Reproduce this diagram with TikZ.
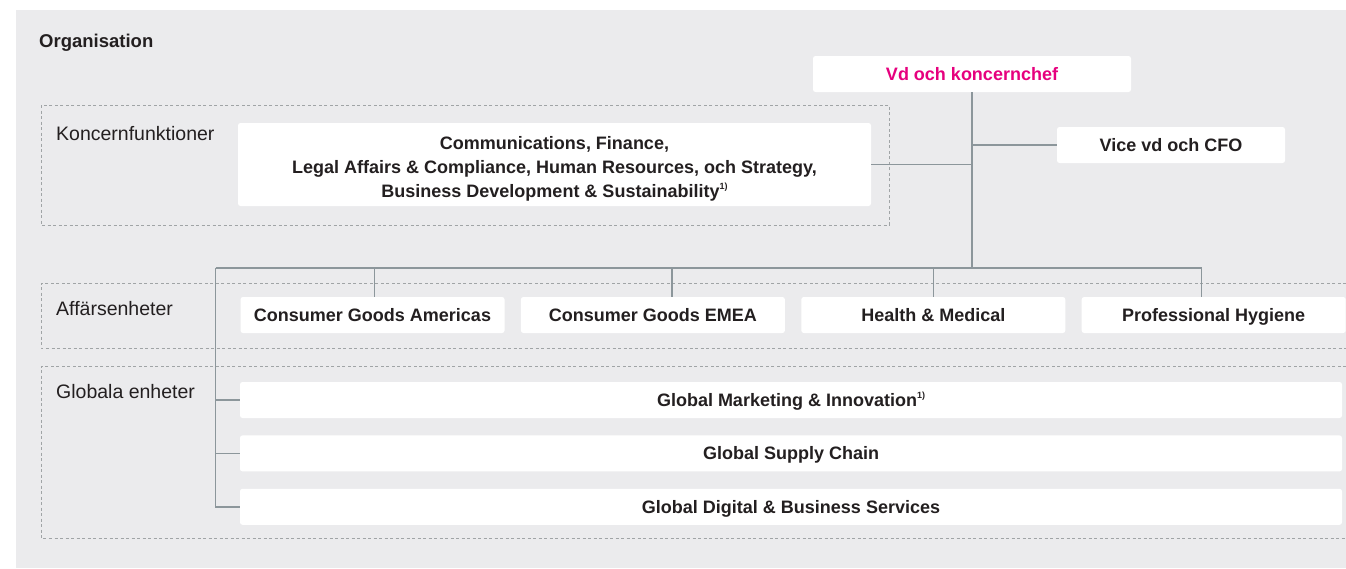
\documentclass[tikz,border=0pt]{standalone}
\usepackage{fontspec}
\setmainfont{Liberation Sans}
\usepackage{xcolor}
\usetikzlibrary{positioning}

\definecolor{bggray}{HTML}{EBEBED}
\definecolor{ink}{HTML}{231F20}
\definecolor{pink}{HTML}{E6007E}
\definecolor{linkgray}{HTML}{8C969B}
\definecolor{dashgray}{HTML}{A0A4A6}

\newcommand{\fnmark}{\raisebox{0.45em}{\fontsize{9}{9}\selectfont 1)}}

\begin{document}
\begin{tikzpicture}[x=1pt, y=-1pt,
  card/.style={rectangle, fill=white, rounded corners=2.5pt, inner sep=0pt,
               text=ink, font=\fontsize{18}{24}\selectfont\bfseries},
  box/.style={card, minimum height=36pt, text height=13pt, text depth=0pt},
  unit/.style={box, minimum width=264pt},
  glob/.style={box, minimum width=1102pt},
  group/.style={draw=dashgray, line width=0.8pt, dash pattern=on 3pt off 2.5pt},
  grouplabel/.style={anchor=west, inner sep=0pt, text=ink,
                     font=\fontsize{19.5}{22}\selectfont},
  link/.style={draw=linkgray, line width=1.4pt},
]
  \useasboundingbox (0,0) rectangle (1346,568);
  \fill[bggray] (16,10) rectangle (1346,568);

  % Title
  \node[anchor=west, inner sep=0pt, text=ink,
        font=\fontsize{18.5}{22}\selectfont\bfseries] (title) at (39,43) {Organisation};

  % Group frames
  \draw[group] (41,105) rectangle (889,225);
  \draw[group] (1346,283) -- (41,283) -- (41,348) -- (1346,348);
  \draw[group] (1346,366) -- (41,366) -- (41,538) -- (1346,538);
  \node[grouplabel] (kflabel) at (56,134) {Koncernfunktioner};
  \node[grouplabel] (aelabel) at (56,309) {Affärsenheter};
  \node[grouplabel] (gelabel) at (56,392) {Globala enheter};

  % Management
  \node[box, text=pink, minimum width=318pt] (ceo) at (972,74) {Vd och koncernchef};
  \node[box, minimum width=228pt] (cfo) at (1171,145) {Vice vd och CFO};
  % Group functions
  \node[card, minimum width=633pt, minimum height=83pt, align=center] (corp) at (554.5,164.5)
    {\rule{0pt}{22pt}Communications, Finance,\\
     Legal Affairs \& Compliance, Human Resources, och Strategy,\\
     Business Development \& Sustainability\fnmark};

  % Business units
  \node[unit] (cga) at (372.5,315) {Consumer Goods Americas};
  \node[unit, right=16pt of cga] (cge) {Consumer Goods EMEA};
  \node[unit, right=16pt of cge] (hm)  {Health \& Medical};
  \node[unit, right=16pt of hm]  (ph)  {Professional Hygiene};

  % Global units
  \node[glob] (gmi) at (791,400) {Global Marketing \& Innovation\fnmark};
  \node[glob, below=17pt of gmi] (gsc) {Global Supply Chain};
  \node[glob, below=17pt of gsc] (gdb) {Global Digital \& Business Services};

  % Lines
  \coordinate (busL) at (215.5,268);
  \coordinate (busR) at ([xshift=-12.5pt]ph.north |- busL);
  \draw[link] (ceo.south) -- (ceo.south |- busL);
  \draw[link] (corp.east) -- (corp.east -| ceo.south);
  \draw[link] (cfo.west) -- (cfo.west -| ceo.south);
  \draw[link] (busL) -- (busR) -- ([xshift=-12.5pt]ph.north);
  \draw[link] ([xshift=2pt]cga.north) -- ([xshift=2pt]cga.north |- busL);
  \draw[link] ([xshift=19pt]cge.north) -- ([xshift=19pt]cge.north |- busL);
  \draw[link] (hm.north) -- (hm.north |- busL);
  \draw[link] (busL) |- (gdb.west);
  \draw[link] (gmi.west) -- (gmi.west -| busL);
  \draw[link] (gsc.west) -- (gsc.west -| busL);
\end{tikzpicture}
\end{document}
